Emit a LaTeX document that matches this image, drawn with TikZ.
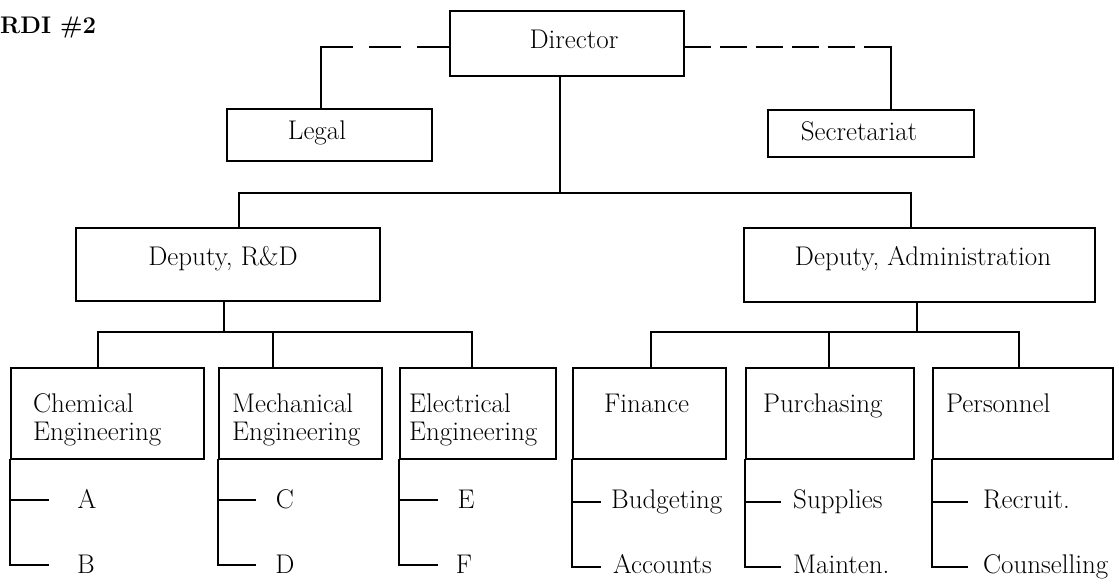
\documentclass[tikz,border=0pt]{standalone}
\usepackage{fontspec}
\begin{document}
\begin{tikzpicture}[x=1pt,y=-1pt,
  box/.style={draw, line width=1.7pt, rectangle, inner sep=0pt, anchor=north west},
  lbl/.style={inner sep=0pt, font=\fontsize{27}{28}\selectfont},
  link/.style={line width=1.7pt, line cap=rect},
  dashL/.style={line width=1.7pt, dash pattern=on 32pt off 16pt},
  dashR/.style={line width=1.7pt, dash pattern=on 27pt off 9pt},
]
\useasboundingbox (0,0) rectangle (1119,584);

% title
\node[inner sep=0pt, anchor=base west, font=\bfseries\fontsize{24}{28}\selectfont] (title) at (0,33) {RDI \#2};

% boxes
\node[box, minimum width=234pt, minimum height=65pt] (dir)   at (449,10)  {};
\node[box, minimum width=205pt, minimum height=52pt] (legal) at (226,108) {};
\node[box, minimum width=206pt, minimum height=47pt] (sec)   at (767,109) {};
\node[box, minimum width=304pt, minimum height=73pt] (rd)    at (75,227)  {};
\node[box, minimum width=351pt, minimum height=74pt] (ad)    at (743,227) {};
\node[box, minimum width=193pt, minimum height=91pt] (chem)  at (10,367)  {};
\node[box, minimum width=163pt, minimum height=91pt] (mech)  at (218,367) {};
\node[box, minimum width=156pt, minimum height=91pt] (elec)  at (399,367) {};
\node[box, minimum width=153pt, minimum height=91pt] (fin)   at (572,367) {};
\node[box, minimum width=168pt, minimum height=91pt] (pur)   at (745,367) {};
\node[box, minimum width=180pt, minimum height=91pt] (pers)  at (932,367) {};

% box texts
\node[lbl, anchor=base] (dirT)   at (574,48)  {Director};
\node[lbl, anchor=base] (legalT) at (317,139) {Legal};
\node[lbl, anchor=base] (secT)   at (859,140) {Secretariat};
\node[lbl, anchor=base] (rdT)    at (223,265) {Deputy, R\&D};
\node[lbl, anchor=base] (adT)    at (923,265) {Deputy, Administration};
\node[lbl, anchor=base west] (chemT) at (33,412)  {\begin{tabular}[t]{@{}l@{}}Chemical\\Engineering\end{tabular}};
\node[lbl, anchor=base west] (mechT) at (232,412) {\begin{tabular}[t]{@{}l@{}}Mechanical\\Engineering\end{tabular}};
\node[lbl, anchor=base west] (elecT) at (409,412) {\begin{tabular}[t]{@{}l@{}}Electrical\\Engineering\end{tabular}};
\node[lbl, anchor=base west] (finT)  at (604,412) {Finance};
\node[lbl, anchor=base west] (purT)  at (763,412) {Purchasing};
\node[lbl, anchor=base west] (persT) at (946,412) {Personnel};

% sub-unit labels
\node[lbl, anchor=base] (A) at (87,508)  {A};
\node[lbl, anchor=base] (B) at (86,573)  {B};
\node[lbl, anchor=base] (C) at (285,508) {C};
\node[lbl, anchor=base] (D) at (285,573) {D};
\node[lbl, anchor=base] (E) at (466,508) {E};
\node[lbl, anchor=base] (F) at (464,573) {F};
\node[lbl, anchor=base west] (budg)  at (611,508) {Budgeting};
\node[lbl, anchor=base west] (acct)  at (613,573) {Accounts};
\node[lbl, anchor=base west] (supp)  at (793,508) {Supplies};
\node[lbl, anchor=base west] (maint) at (793,573) {Mainten.};
\node[lbl, anchor=base west] (recr)  at (983,508) {Recruit.};
\node[lbl, anchor=base west] (couns) at (983,573) {Counselling};

% staff links (dashed)
\coordinate (legC) at (321,47);
\coordinate (secC) at (891,47);
\draw[dashL] (legC) -- (dir.west |- legC);
\draw[link] (legC) -- (legal.north -| legC);
\draw[dashR] (secC) -- (dir.east |- secC);
\draw[link] (secC) -- (sec.north -| secC);

% director to deputies
\coordinate (jTop) at (560,193);
\coordinate (jL) at (239,193);
\coordinate (jR) at (911,193);
\draw[link] (dir.south -| jTop) -- (jTop);
\draw[link] (rd.north -| jL) -- (jL) -- (jR) -- (ad.north -| jR);

% R&D branch
\coordinate (jRD) at (224,332);
\coordinate (bRD1) at (98,332);
\coordinate (bRD2) at (273,332);
\coordinate (bRD3) at (472,332);
\draw[link] (rd.south -| jRD) -- (jRD);
\draw[link] (chem.north -| bRD1) -- (bRD1) -- (bRD3) -- (elec.north -| bRD3);
\draw[link] (bRD2) -- (mech.north -| bRD2);

% Administration branch
\coordinate (jAD) at (917,332);
\coordinate (bAD1) at (651,332);
\coordinate (bAD2) at (829,332);
\coordinate (bAD3) at (1019,332);
\draw[link] (ad.south -| jAD) -- (jAD);
\draw[link] (fin.north -| bAD1) -- (bAD1) -- (bAD3) -- (pers.north -| bAD3);
\draw[link] (bAD2) -- (pur.north -| bAD2);

% sub-unit brackets
\coordinate (chemA) at (48,500);  \coordinate (chemB) at (48,565);
\coordinate (mechA) at (255,500); \coordinate (mechB) at (255,565);
\coordinate (elecA) at (437,500); \coordinate (elecB) at (437,565);
\coordinate (finA)  at (600,502); \coordinate (finB)  at (600,567);
\coordinate (purA)  at (780,502); \coordinate (purB)  at (780,567);
\coordinate (persA) at (967,502); \coordinate (persB) at (967,567);
\foreach \u in {chem,mech,elec,fin,pur,pers}{
  \draw[link] (\u.south west) -- (\u.south west |- \u B) -- (\u B);
  \draw[link] (\u.south west |- \u A) -- (\u A);
}
\end{tikzpicture}
\end{document}
